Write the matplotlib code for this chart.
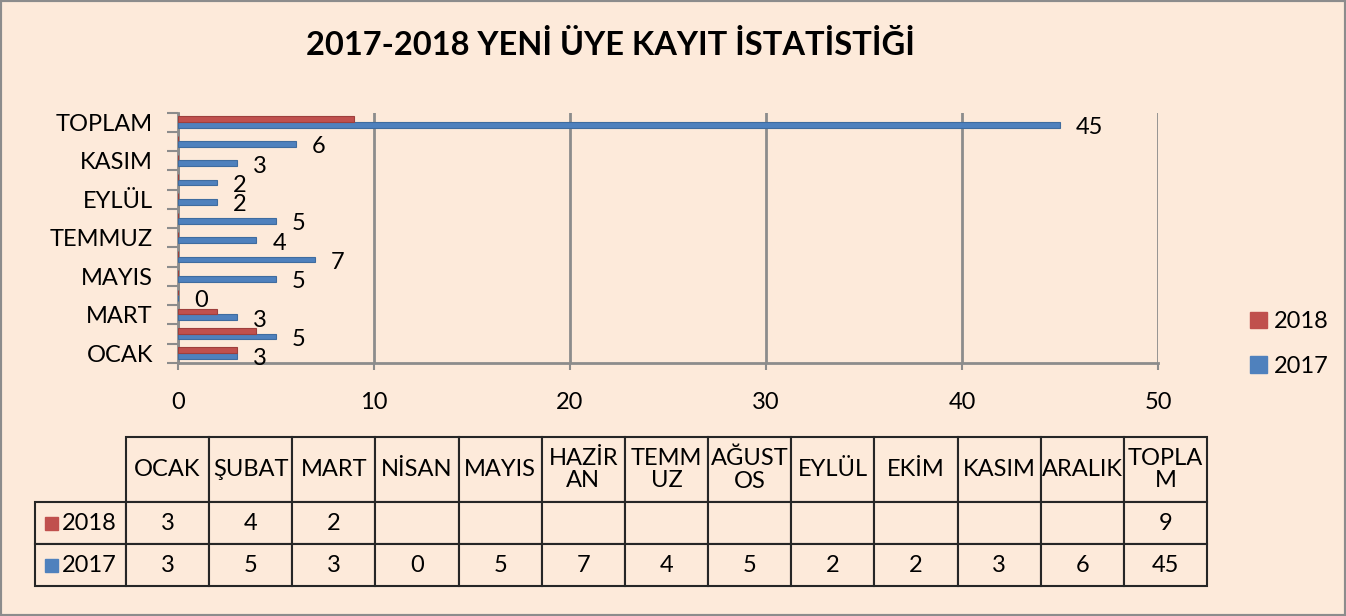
import numpy as np
import matplotlib.pyplot as plt
from matplotlib.patches import Rectangle, Patch

months = ["OCAK", "ŞUBAT", "MART", "NİSAN", "MAYIS", "HAZİRAN", "TEMMUZ",
          "AĞUSTOS", "EYLÜL", "EKİM", "KASIM", "ARALIK", "TOPLAM"]
table_headers = ["OCAK", "ŞUBAT", "MART", "NİSAN", "MAYIS", "HAZİR\nAN", "TEMM\nUZ",
                 "AĞUST\nOS", "EYLÜL", "EKİM", "KASIM", "ARALIK", "TOPLA\nM"]
values_2017 = [3, 5, 3, 0, 5, 7, 4, 5, 2, 2, 3, 6, 45]
values_2018 = [3, 4, 2, None, None, None, None, None, None, None, None, None, 9]
x_ticks = [0, 10, 20, 30, 40, 50]

BG = "#FDEADA"
BLUE = "#4F81BD"
RED = "#C0504D"
GRAY = "#8C8C8C"
W, H = 1346, 616
FS = 17

plt.rcParams["font.family"] = ["Lato", "DejaVu Sans"]

fig = plt.figure(figsize=(W / 100, H / 100), dpi=100, facecolor=BG)
fig.patches.append(Rectangle((0, 0), 1, 1, transform=fig.transFigure, fill=False,
                             edgecolor=GRAY, lw=3))

fig.text(610 / W, 1 - 45 / H, "2017-2018 YENİ ÜYE KAYIT İSTATİSTİĞİ",
         ha="center", va="center", fontsize=23.5, fontweight="bold")

# chart
ax = fig.add_axes([178 / W, 1 - 363 / H, 980 / W, (363 - 112.7) / H])
ax.set_facecolor(BG)
y = np.arange(len(months))
v18 = [v if v is not None else 0 for v in values_2018]
ax.barh(y - 0.12, values_2017, height=0.3, color=BLUE, edgecolor="#3F6C9F", lw=0.8, zorder=3)
ax.barh(y + 0.17, v18, height=0.28, color=RED, edgecolor="#9E3F3C", lw=0.8, zorder=3)

for yi, v in zip(y, values_2017):
    ax.annotate(str(v), (v, yi - 0.12), xytext=(16, -3), textcoords="offset pixels",
                ha="left", va="center", fontsize=FS)

ax.set_xlim(0, 50)
ax.set_ylim(-0.5, len(months) - 0.5)
ax.set_xticks(x_ticks)
ax.set_xticklabels([str(t) for t in x_ticks], fontsize=FS)
ax.set_yticks(y[::2])
ax.set_yticklabels(months[::2], fontsize=FS)
ax.set_yticks(np.arange(-0.5, len(months), 1), minor=True)
ax.tick_params(axis="y", which="major", length=0, pad=18)
ax.tick_params(axis="y", which="minor", length=8, width=1.5, color=GRAY)
ax.tick_params(axis="x", length=5, width=1.5, color=GRAY, pad=16)
ax.grid(axis="x", color=GRAY, lw=2)
ax.set_axisbelow(True)
for s in ["top", "right"]:
    ax.spines[s].set_visible(False)
for s in ["left", "bottom"]:
    ax.spines[s].set_color(GRAY)
    ax.spines[s].set_linewidth(2)

fig.legend(handles=[Patch(color=RED, label="2018"), Patch(color=BLUE, label="2017")],
           loc="center left", bbox_to_anchor=(1250 / W, 1 - 344 / H), frameon=False,
           borderpad=0, borderaxespad=0, fontsize=FS, handlelength=0.7,
           handleheight=0.7, handletextpad=0.3, labelspacing=1.0)

# data table
tab_ax = fig.add_axes([35 / W, 1 - 586 / H, (1207 - 35) / W, (586 - 437) / H])
tab_ax.axis("off")
row18 = ["" if v is None else str(v) for v in values_2018]
row17 = [str(v) for v in values_2017]
cells = [[""] + table_headers, [""] + row18, [""] + row17]
tbl = tab_ax.table(cellText=cells, cellLoc="center", bbox=[0, 0, 1, 1])
tbl.auto_set_font_size(False)
col_w = [91] + [83.3] * len(months)
row_h = [65, 42, 42]
for (r, c), cell in tbl.get_celld().items():
    cell.set_width(col_w[c])
    cell.set_height(row_h[r])
    cell.set_facecolor(BG)
    cell.set_edgecolor("#262626")
    cell.set_linewidth(1.5)
    cell.get_text().set_fontsize(FS)
    cell.get_text().set_linespacing(1.1)
tbl[0, 0].visible_edges = ""

tw, th = 1207 - 35, 586 - 437
for name, color, cy in [("2018", RED, 523), ("2017", BLUE, 565)]:
    tab_ax.add_patch(Rectangle(((45 - 35) / tw, (586 - cy - 6.5) / th), 13 / tw, 13 / th,
                               transform=tab_ax.transAxes, color=color, clip_on=False))
    tab_ax.text((62 - 35) / tw, (586 - cy) / th, name, transform=tab_ax.transAxes,
                ha="left", va="center", fontsize=FS)

fig.savefig("out.png", dpi=100, facecolor=BG)
